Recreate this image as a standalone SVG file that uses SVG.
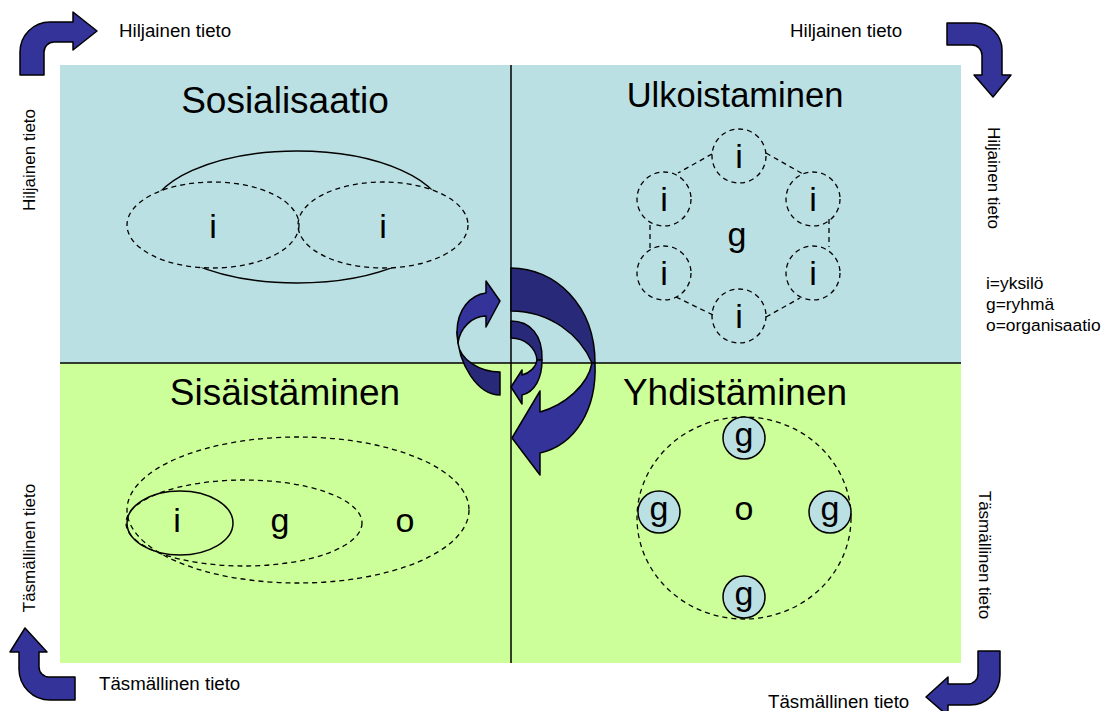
<svg xmlns="http://www.w3.org/2000/svg" width="1101" height="711" viewBox="0 0 1101 711">
<style>
text{font-family:"Liberation Sans",Arial,sans-serif;fill:#000}
.t{font-size:37px;text-anchor:middle}
.l{font-size:34px;text-anchor:middle}
.s{font-size:18.7px}
.lg{font-size:17.4px}
.sm{font-size:17px;text-anchor:middle}
.d{fill:none;stroke:#000;stroke-width:1.3;stroke-dasharray:5,4}
.so{fill:none;stroke:#000;stroke-width:1.5}
.ar{fill:#333399;stroke:#000;stroke-width:1.5;stroke-linejoin:round}
.ard{fill:#29297A;stroke:#000;stroke-width:1.5;stroke-linejoin:round}
.gc{fill:#BBE0E3;stroke:#000;stroke-width:1.5}
</style>
<rect width="1101" height="711" fill="#fff"/>
<g id="background">
<rect x="60" y="65" width="901" height="298" fill="#BBE0E3"/>
<rect x="60" y="363" width="901" height="300" fill="#CCFF99"/>
<line x1="511" y1="65" x2="511" y2="663" stroke="#000" stroke-width="1.5"/>
<line x1="60" y1="363" x2="961" y2="363" stroke="#000" stroke-width="1.5"/>
</g>
<g id="sosialisaatio">
<text class="t" x="285" y="113">Sosialisaatio</text>
<ellipse cx="297" cy="217" rx="148" ry="66" fill="#BBE0E3" stroke="#000" stroke-width="1.5"/>
<ellipse cx="213" cy="225" rx="86" ry="43" fill="#BBE0E3"/>
<ellipse cx="383" cy="225" rx="85" ry="43" fill="#BBE0E3"/>
<ellipse class="d" cx="213" cy="225" rx="86" ry="43"/>
<ellipse class="d" cx="383" cy="225" rx="85" ry="43"/>
<text class="l" x="213" y="238">i</text>
<text class="l" x="383" y="238">i</text>
</g>
<g id="ulkoistaminen">
<text class="t" x="735" y="107" style="font-size:34.5px">Ulkoistaminen</text>
<g class="d">
<line x1="712" y1="154" x2="678" y2="173"/>
<line x1="766" y1="153" x2="803" y2="174"/>
<line x1="650" y1="225" x2="650" y2="250"/>
<line x1="829" y1="219" x2="829" y2="247"/>
<line x1="676" y1="297" x2="713" y2="315"/>
<line x1="766" y1="317" x2="800" y2="298"/>
<circle cx="739" cy="156" r="27"/>
<circle cx="664" cy="199" r="27"/>
<circle cx="813" cy="199" r="27"/>
<circle cx="664" cy="273" r="27"/>
<circle cx="813" cy="273" r="27"/>
<circle cx="739" cy="316" r="27"/>
</g>
<text class="l" x="739" y="168">i</text>
<text class="l" x="664" y="211">i</text>
<text class="l" x="813" y="211">i</text>
<text class="l" x="664" y="285">i</text>
<text class="l" x="813" y="285">i</text>
<text class="l" x="739" y="328">i</text>
<text class="l" x="737" y="246">g</text>
</g>
<g id="sisaistaminen">
<text class="t" x="285" y="405">Sisäistäminen</text>
<ellipse class="d" cx="298" cy="510" rx="171" ry="73"/>
<ellipse class="d" cx="244" cy="523" rx="118" ry="43"/>
<ellipse class="so" cx="180" cy="523" rx="53" ry="32"/>
<text class="l" x="177" y="532">i</text>
<text class="l" x="280" y="532">g</text>
<text class="l" x="405" y="532">o</text>
</g>
<g id="yhdistaminen">
<text class="t" x="735" y="405">Yhdistäminen</text>
<ellipse class="d" cx="744" cy="518" rx="107" ry="101"/>
<circle class="gc" cx="744" cy="438" r="21"/>
<circle class="gc" cx="659" cy="512" r="21"/>
<circle class="gc" cx="830" cy="512" r="21"/>
<circle class="gc" cx="744" cy="597" r="21"/>
<text class="l" x="744" y="446">g</text>
<text class="l" x="659" y="520">g</text>
<text class="l" x="830" y="520">g</text>
<text class="l" x="744" y="605">g</text>
<text class="l" x="744" y="520">o</text>
</g>
<g id="legend">
<text class="lg" x="986" y="289">i=yksilö</text>
<text class="lg" x="986" y="310">g=ryhmä</text>
<text class="lg" x="986" y="331">o=organisaatio</text>
</g>
<g id="labels">
<text class="s" x="119" y="37">Hiljainen tieto</text>
<text class="s" x="790" y="37">Hiljainen tieto</text>
<text class="s" x="99" y="690">Täsmällinen tieto</text>
<text class="s" x="768" y="708">Täsmällinen tieto</text>
<text class="sm" transform="translate(35,160) rotate(-90)">Hiljainen tieto</text>
<text class="sm" transform="translate(988,178) rotate(90)">Hiljainen tieto</text>
<text class="sm" transform="translate(35,548) rotate(-90)">Täsmällinen tieto</text>
<text class="sm" transform="translate(979,555) rotate(90)">Täsmällinen tieto</text>
</g>
<g id="connectors">
<path class="ar" d="M20,75 L20,52 A30,30 0 0 1 50,22 L73,22 L73,12 L97,31 L73,50 L73,42 L54,42 A10,10 0 0 0 44,52 L44,75 Z"/>
<path class="ar" d="M947,23 L975,23 A27,27 0 0 1 1002,50 L1002,75 L1011,75 L993,97 L974,75 L982,75 L982,55 A10,10 0 0 0 972,45 L947,45 Z"/>
<path class="ar" d="M19,652 L10,652 L25,628 L47,652 L39,652 L39,667 A10,10 0 0 0 49,677 L75,677 L75,700 L50,700 A31,31 0 0 1 19,669 Z"/>
<path class="ar" d="M978,651 L1000,651 L1000,675 A30,30 0 0 1 970,705 L948,705 L948,716 L926,697 L948,677 L948,684 L968,684 A10,10 0 0 0 978,674 Z"/>
<path class="ard" d="M500,372 C480,372 460,360 458,343 L457,332 C458,365 478,395 500,395 Z"/>
<path class="ar" d="M457,332 C457,310 470,295 486,293 L486,281 L500,301 L486,327 L486,316 C472,316 460,328 458,343 Z"/>
<path class="ard" d="M511,268 C555,268 595,305 595,363 L592,363 C580,335 550,311 511,311 Z"/>
<path class="ar" d="M595,363 C597,410 575,445 540,453 L540,475 L512,438 L540,391 L540,412 C565,405 588,385 592,363 Z"/>
<path class="ard" d="M511,321 C530,321 543,335 542,360 L537,360 C536,348 525,338 511,338 Z"/>
<path class="ar" d="M542,360 C542,378 535,392 522,395 L522,404 L511,387 L522,370 L522,375 C530,373 536,367 537,360 Z"/>
</g>
</svg>
